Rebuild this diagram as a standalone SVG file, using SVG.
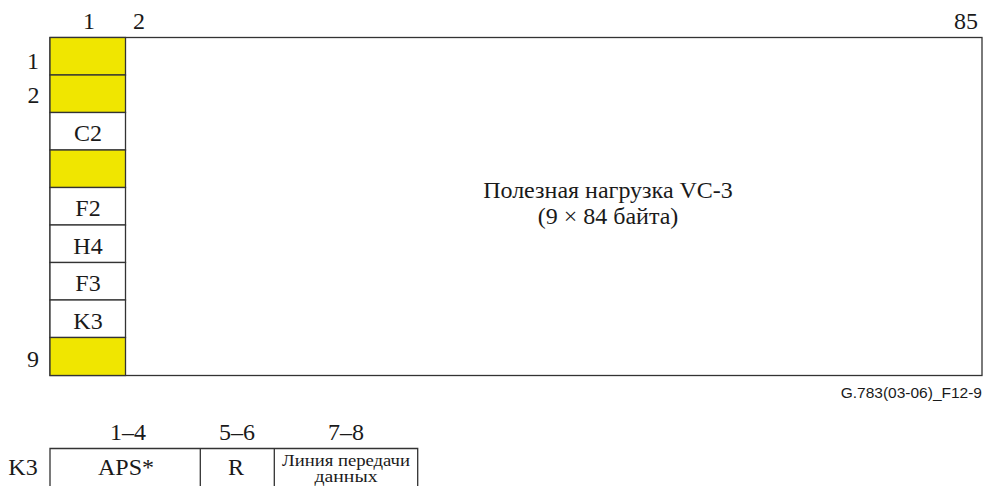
<svg xmlns="http://www.w3.org/2000/svg" width="985" height="486" viewBox="0 0 985 486">
<style>
.t{font-family:"Liberation Serif","Times New Roman",serif;font-size:24px;fill:#1a1a1a;text-anchor:middle}
.s{font-family:"Liberation Serif","Times New Roman",serif;font-size:16px;fill:#1a1a1a;text-anchor:middle}
.f{font-family:"Liberation Sans",Arial,sans-serif;font-size:15.5px;fill:#1a1a1a;text-anchor:end}
.c{stroke:#333;stroke-width:1.3;fill:#fff}
.y{stroke:#333;stroke-width:1.3;fill:#f0e600}
.l{stroke:#333;stroke-width:1.3;fill:none}
</style>
<rect width="985" height="486" fill="#fff"/>
<g id="labels">
<text class="t" x="89" y="29">1</text>
<text class="t" x="139" y="29">2</text>
<text class="t" x="966" y="29">85</text>
<text class="t" x="33" y="69">1</text>
<text class="t" x="33.5" y="103">2</text>
<text class="t" x="33" y="367">9</text>
</g>
<g id="payload">
<rect class="c" x="50" y="37.5" width="932" height="338"/>
<text class="t" x="608" y="198">Полезная нагрузка VC-3</text>
<text class="t" x="608" y="224">(9 × 84 байта)</text>
</g>
<g id="poh">
<rect class="y" x="50" y="37.5" width="75.5" height="37.5"/>
<rect class="y" x="50" y="75" width="75.5" height="37.5"/>
<rect class="c" x="50" y="112.5" width="75.5" height="37.5"/>
<text class="t" x="88" y="141">C2</text>
<rect class="y" x="50" y="150" width="75.5" height="37.5"/>
<rect class="c" x="50" y="187.5" width="75.5" height="37.5"/>
<text class="t" x="88" y="216">F2</text>
<rect class="c" x="50" y="225" width="75.5" height="37.5"/>
<text class="t" x="88" y="253.5">H4</text>
<rect class="c" x="50" y="262.5" width="75.5" height="37.5"/>
<text class="t" x="88" y="291">F3</text>
<rect class="c" x="50" y="300" width="75.5" height="37.5"/>
<text class="t" x="88" y="328.5">K3</text>
<rect class="y" x="50" y="337.5" width="75.5" height="38"/>
</g>
<text class="f" x="982" y="398">G.783(03-06)_F12-9</text>
<g id="k3">
<text class="t" x="128" y="440">1–4</text>
<text class="t" x="237" y="440">5–6</text>
<text class="t" x="346" y="440">7–8</text>
<text class="t" x="23" y="475">K3</text>
<path class="l" d="M50 487V448.5H417.7V487M200.3 448.5V487M274.3 448.5V487"/>
<text class="t" x="126" y="475">APS*</text>
<text class="t" x="236" y="475">R</text>
<text class="s" x="346" y="466" textLength="128" lengthAdjust="spacingAndGlyphs">Линия передачи</text>
<text class="s" x="346" y="482" textLength="63" lengthAdjust="spacingAndGlyphs">данных</text>
</g>
</svg>
